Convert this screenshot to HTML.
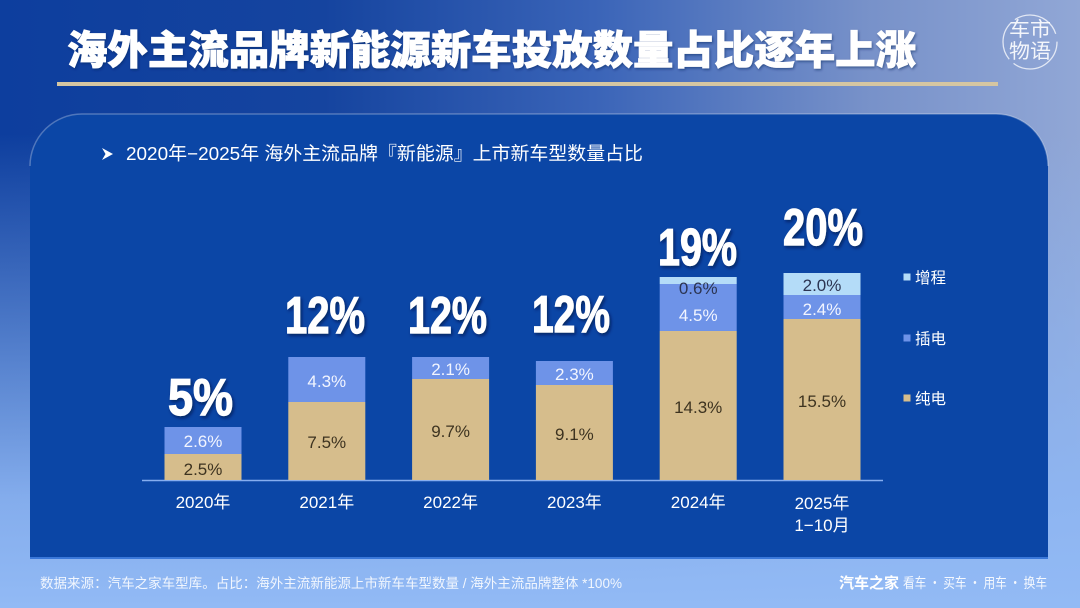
<!DOCTYPE html>
<html><head><meta charset="utf-8">
<style>
html,body{margin:0;padding:0;}
body{width:1080px;height:608px;overflow:hidden;
background:
 linear-gradient(to bottom, rgba(142,182,243,0) 22%, rgba(142,182,243,0.5) 55%, rgba(142,182,243,0.92) 82%, rgba(146,186,245,1) 100%),
 linear-gradient(90deg, #0d3e9e 0%, #15449f 30%, #3a64b8 55%, #7791c9 80%, #91a7d6 100%);
font-family:"Liberation Sans","Noto Sans CJK SC",sans-serif;}
svg{display:block;}
</style></head>
<body>
<svg width="1080" height="608" viewBox="0 0 1080 608" xmlns="http://www.w3.org/2000/svg">
<defs>
<filter id="sh" x="-20%" y="-30%" width="150%" height="170%"><feDropShadow dx="1.5" dy="2" stdDeviation="1.5" flood-color="#001040" flood-opacity="0.65"/></filter>
<filter id="ts" x="-5%" y="-30%" width="110%" height="170%"><feDropShadow dx="1" dy="1.5" stdDeviation="1.2" flood-color="#001a55" flood-opacity="0.5"/></filter>
</defs>

<!-- title -->
<text x="67" y="64" font-family="'Noto Sans CJK SC','WenQuanYi Zen Hei',sans-serif" font-weight="900" font-size="40" fill="#fff" stroke="#fff" stroke-width="0.8" textLength="849" lengthAdjust="spacingAndGlyphs" filter="url(#ts)">海外主流品牌新能源新车投放数量占比逐年上涨</text>
<rect x="57" y="82" width="941" height="4" fill="#d5c6a2"/>

<!-- logo -->
<circle cx="1030" cy="42" r="27" fill="none" stroke="rgba(255,255,255,0.75)" stroke-width="1.3" stroke-dasharray="60 6 40 5 50 8"/>
<text x="1030" y="36" text-anchor="middle" font-family="'Noto Sans CJK SC',sans-serif" font-size="20" fill="rgba(255,255,255,0.9)" textLength="42" lengthAdjust="spacingAndGlyphs">车市</text>
<text x="1030" y="58" text-anchor="middle" font-family="'Noto Sans CJK SC',sans-serif" font-size="20" fill="rgba(255,255,255,0.9)" textLength="42" lengthAdjust="spacingAndGlyphs">物语</text>

<!-- panel -->
<path d="M30,559 L30,166 A52,52 0 0 1 82,114 L996,114 A52,52 0 0 1 1048,166 L1048,559 Z" fill="#0b46a6"/>
<path d="M30,166 A52,52 0 0 1 82,114 L996,114 A52,52 0 0 1 1048,166" fill="none" stroke="rgba(255,255,255,0.28)" stroke-width="1.5"/>
<rect x="30" y="557" width="1018" height="2" fill="#3a78da"/>

<!-- subtitle -->
<polygon points="102,148 113,154 102,160 105.5,154" fill="#fff"/>
<text x="126" y="160" font-family="'Liberation Sans','Noto Sans CJK SC',sans-serif" font-size="18.5" fill="#fff" textLength="517" lengthAdjust="spacingAndGlyphs">2020年−2025年 海外主流品牌『新能源』上市新车型数量占比</text>

<!-- axis -->
<line x1="142" y1="480.5" x2="883" y2="480.5" stroke="#86aef0" stroke-width="1.5"/>

<!-- bars -->
<g>
<rect x="164.5" y="454" width="77" height="26" fill="#d6bd8c"/>
<rect x="164.5" y="427" width="77" height="27" fill="#6e93e8"/>

<rect x="288.3" y="402" width="77" height="78" fill="#d6bd8c"/>
<rect x="288.3" y="357" width="77" height="45" fill="#6e93e8"/>

<rect x="412.1" y="379" width="77" height="101" fill="#d6bd8c"/>
<rect x="412.1" y="357" width="77" height="22" fill="#6e93e8"/>

<rect x="535.9" y="385" width="77" height="95" fill="#d6bd8c"/>
<rect x="535.9" y="361" width="77" height="24" fill="#6e93e8"/>

<rect x="659.7" y="331" width="77" height="149" fill="#d6bd8c"/>
<rect x="659.7" y="284" width="77" height="47" fill="#6e93e8"/>
<rect x="659.7" y="277" width="77" height="7" fill="#b4dcf8"/>

<rect x="783.5" y="319" width="77" height="161" fill="#d6bd8c"/>
<rect x="783.5" y="295" width="77" height="24" fill="#6e93e8"/>
<rect x="783.5" y="273" width="77" height="22" fill="#b4dcf8"/>
</g>

<!-- inner labels -->
<g font-family="'Liberation Sans',sans-serif" font-size="17" text-anchor="middle">
<text x="203" y="447" fill="#f2f5ff">2.6%</text>
<text x="203" y="475" fill="#3d3320">2.5%</text>
<text x="326.8" y="387" fill="#f2f5ff">4.3%</text>
<text x="326.8" y="448" fill="#3d3320">7.5%</text>
<text x="450.6" y="375" fill="#f2f5ff">2.1%</text>
<text x="450.6" y="437" fill="#3d3320">9.7%</text>
<text x="574.4" y="380" fill="#f2f5ff">2.3%</text>
<text x="574.4" y="440" fill="#3d3320">9.1%</text>
<text x="698.2" y="294" fill="#2c3552">0.6%</text>
<text x="698.2" y="321" fill="#f2f5ff">4.5%</text>
<text x="698.2" y="413" fill="#3d3320">14.3%</text>
<text x="822" y="291" fill="#2c3552">2.0%</text>
<text x="822" y="315" fill="#f2f5ff">2.4%</text>
<text x="822" y="407" fill="#3d3320">15.5%</text>
</g>

<!-- big labels -->
<g font-family="'Liberation Sans',sans-serif" font-weight="bold" font-size="52" fill="#fff" stroke="#fff" stroke-width="1.2" filter="url(#sh)" lengthAdjust="spacingAndGlyphs">
<text x="168" y="415" textLength="65" lengthAdjust="spacingAndGlyphs">5%</text>
<text x="285" y="333" textLength="80" lengthAdjust="spacingAndGlyphs">12%</text>
<text x="408" y="333" textLength="79" lengthAdjust="spacingAndGlyphs">12%</text>
<text x="532" y="332" textLength="78" lengthAdjust="spacingAndGlyphs">12%</text>
<text x="658" y="265" textLength="79" lengthAdjust="spacingAndGlyphs">19%</text>
<text x="783" y="245" textLength="80" lengthAdjust="spacingAndGlyphs">20%</text>
</g>

<!-- year labels -->
<g font-family="'Liberation Sans','Noto Sans CJK SC',sans-serif" font-size="17" fill="#fff" text-anchor="middle">
<text x="203" y="508">2020年</text>
<text x="326.8" y="508">2021年</text>
<text x="450.6" y="508">2022年</text>
<text x="574.4" y="508">2023年</text>
<text x="698.2" y="508">2024年</text>
<text x="822" y="509">2025年</text>
<text x="822" y="531">1−10月</text>
</g>

<!-- legend -->
<rect x="903.5" y="273.5" width="7" height="7" fill="#b4dcf8"/>
<rect x="903.5" y="334.5" width="7" height="7" fill="#6e93e8"/>
<rect x="903.5" y="394.5" width="7" height="7" fill="#d6bd8c"/>
<g font-family="'Noto Sans CJK SC',sans-serif" font-size="15.5" fill="#fff">
<text x="915" y="283">增程</text>
<text x="915" y="344">插电</text>
<text x="915" y="404">纯电</text>
</g>

<!-- footer -->
<text x="40" y="588" font-family="'Liberation Sans','Noto Sans CJK SC',sans-serif" font-size="13.5" fill="rgba(255,255,255,0.88)" textLength="582" lengthAdjust="spacingAndGlyphs">数据来源：汽车之家车型库。占比：海外主流新能源上市新车车型数量 / 海外主流品牌整体 *100%</text>
<text x="839" y="588" font-family="'Noto Sans CJK SC',sans-serif" font-weight="bold" font-size="15" fill="#fff" textLength="60" lengthAdjust="spacingAndGlyphs">汽车之家</text>
<text x="903" y="588" font-family="'Noto Sans CJK SC',sans-serif" font-size="14" fill="rgba(255,255,255,0.9)" textLength="144" lengthAdjust="spacingAndGlyphs">看车 · 买车 · 用车 · 换车</text>
</svg>
</body></html>
